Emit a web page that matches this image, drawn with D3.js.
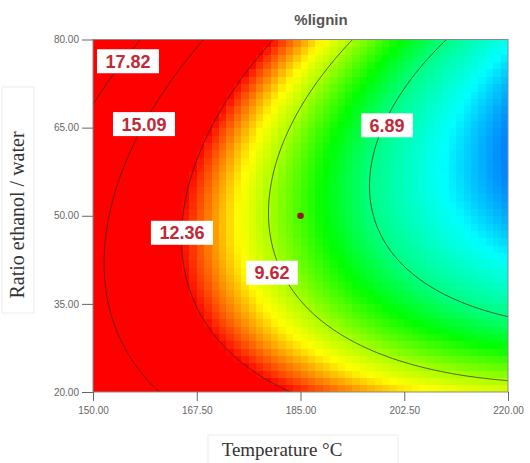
<!DOCTYPE html>
<html>
<head>
<meta charset="utf-8">
<script src="https://cdn.jsdelivr.net/npm/d3@7"></script>
<style>
  html, body { margin: 0; padding: 0; background: #fff; }
  svg { display: block; }
</style>
</head>
<body>
<svg id="chart" width="530" height="463"></svg>
<script>
// ---------------- data ----------------
const title = "%lignin";
const xTitle = "Temperature \u00B0C";
const yTitle = "Ratio ethanol / water";
const xDomain = [150, 220];
const yDomain = [20, 80];
const xTicks = [150, 167.5, 185, 202.5, 220];
const yTicks = [20, 35, 50, 65, 80];
// Response surface in coded units A=(T-185)/35, B=(R-50)/30
// terms: [1, A, B, AB, A^2, B^2, AB^2]
const modelTerms = ["1", "A", "B", "AB", "A2", "B2", "AB2"];
const modelCoefs = [8.714, -5.666, -0.408, -1.992, 1.352, 3.067, 0.333];
const contourLevels = [6.89, 9.62, 12.36, 15.09, 17.82];
// label positions (temperature, ratio)
const labelT = [155.9, 158.6, 165.0, 180.2, 199.6];
const labelR = [76.3, 65.6, 47.1, 40.3, 65.4];
const labelText = ["17.82", "15.09", "12.36", "9.62", "6.89"];
const designPointT = [185];
const designPointR = [50];
// colour ramp: response value -> hue
const colorValues = [4.0, 4.6, 5.3, 6.9, 8.1, 9.6, 10.6, 12.4];
const colorHues = [210, 195, 178, 150, 120, 80, 58, 0];

// ---------------- helpers ----------------
function response(T, R) {
  const A = (T - 185) / 35, B = (R - 50) / 30;
  const t = [1, A, B, A * B, A * A, B * B, A * B * B];
  let s = 0;
  for (let i = 0; i < t.length; i++) s += modelCoefs[i] * t[i];
  return s;
}
const hueScale = d3.scaleLinear().domain(colorValues).range(colorHues).clamp(true);
const colorOf = v => d3.hsl(hueScale(v), 1, 0.5).toString();

// ---------------- layout ----------------
const svg = d3.select("#chart");
const x = d3.scaleLinear().domain(xDomain).range([93, 508]);
const y = d3.scaleLinear().domain(yDomain).range([392, 39.5]);

svg.append("defs").append("clipPath").attr("id", "plotclip")
  .append("rect").attr("x", x(xDomain[0])).attr("y", y(yDomain[1]))
  .attr("width", x(xDomain[1]) - x(xDomain[0])).attr("height", y(yDomain[0]) - y(yDomain[1]));

// colour cells (blocky like the original)
const nx = 56, ny = 48;
const dT = (xDomain[1] - xDomain[0]) / nx, dR = (yDomain[1] - yDomain[0]) / ny;
const cells = [];
for (let j = 0; j < ny; j++) for (let i = 0; i < nx; i++) {
  const T0 = xDomain[0] + i * dT, R0 = yDomain[0] + j * dR;
  cells.push({ T0, R0, v: response(T0 + dT / 2, R0 + dR / 2) });
}
const fillG = svg.append("g").attr("clip-path", "url(#plotclip)");
fillG.selectAll("rect").data(cells).join("rect")
  .attr("x", d => x(d.T0))
  .attr("y", d => y(d.R0 + dR))
  .attr("width", d => x(d.T0 + dT) - x(d.T0) + 0.6)
  .attr("height", d => y(d.R0) - y(d.R0 + dR) + 0.6)
  .attr("fill", d => colorOf(d.v))
  .attr("shape-rendering", "crispEdges");

// contour lines (grid extended beyond domain, clipped)
const gT0 = 146, gT1 = 224, gR0 = 16, gR1 = 84;
const gnx = 260, gny = 230;
const gdT = (gT1 - gT0) / (gnx - 1), gdR = (gR1 - gR0) / (gny - 1);
const vals = new Array(gnx * gny);
for (let j = 0; j < gny; j++) for (let i = 0; i < gnx; i++)
  vals[j * gnx + i] = response(gT0 + i * gdT, gR0 + j * gdR);
const contours = d3.contours().size([gnx, gny]).thresholds(contourLevels)(vals);
const proj = d3.geoTransform({
  point: function (gx, gy) {
    this.stream.point(x(gT0 + (gx - 0.5) * gdT), y(gR0 + (gy - 0.5) * gdR));
  }
});
const cpath = d3.geoPath(proj);
svg.append("g").attr("clip-path", "url(#plotclip)")
  .selectAll("path").data(contours).join("path")
  .attr("d", cpath)
  .attr("fill", "none")
  .attr("stroke", "#3a2a10")
  .attr("stroke-opacity", 0.75)
  .attr("stroke-width", 1);

// plot border
svg.append("rect")
  .attr("x", x(xDomain[0])).attr("y", y(yDomain[1]))
  .attr("width", x(xDomain[1]) - x(xDomain[0])).attr("height", y(yDomain[0]) - y(yDomain[1]))
  .attr("fill", "none").attr("stroke", "#8a8a8a").attr("stroke-width", 1);

// design point
svg.append("g").selectAll("circle").data(designPointT).join("circle")
  .attr("cx", (d) => x(d)).attr("cy", (d, i) => y(designPointR[i]))
  .attr("r", 3.3).attr("fill", "#8e1d12");

// contour labels
const lab = svg.append("g").selectAll("g").data(labelText).join("g")
  .attr("transform", (d, i) => `translate(${x(labelT[i])},${y(labelR[i])})`);
lab.append("rect")
  .attr("x", d => -(d.length * 5.2 + 2) - 3)
  .attr("y", -12).attr("height", 24)
  .attr("width", d => 2 * (d.length * 5.2 + 2) + 6)
  .attr("fill", "#fff");
lab.append("text")
  .attr("text-anchor", "middle").attr("dy", "0.36em")
  .attr("font-family", "Arial, 'Liberation Sans', sans-serif")
  .attr("font-size", 18).attr("font-weight", "bold")
  .attr("fill", "#c02a38")
  .text(d => d);

// axes
const axFont = "Arial, 'Liberation Sans', sans-serif";
const yAxis = svg.append("g").attr("transform", `translate(${x(xDomain[0])},0)`)
  .call(d3.axisLeft(y).tickValues(yTicks).tickFormat(d3.format(".2f")).tickSize(11).tickPadding(3));
const xAxis = svg.append("g").attr("transform", `translate(0,${y(yDomain[0])})`)
  .call(d3.axisBottom(x).tickValues(xTicks).tickFormat(d3.format(".2f")).tickSize(9).tickPadding(6));
[xAxis, yAxis].forEach(g => {
  g.select(".domain").remove();
  g.selectAll(".tick line").attr("stroke", "#666");
  g.selectAll(".tick text").attr("fill", "#666").attr("font-family", axFont).attr("font-size", 10);
});

// title
svg.append("text").attr("x", 321).attr("y", 25).attr("text-anchor", "middle")
  .attr("font-family", axFont).attr("font-size", 15).attr("font-weight", "bold")
  .attr("fill", "#555").text(title);

// axis titles with faint boxes
svg.append("rect").attr("x", 208).attr("y", 435).attr("width", 190).attr("height", 40)
  .attr("fill", "none").attr("stroke", "#ececec");
svg.append("text").attr("x", 282).attr("y", 456).attr("text-anchor", "middle")
  .attr("font-family", "'Times New Roman', 'Liberation Serif', serif").attr("font-size", 19)
  .attr("fill", "#333").text(xTitle);

svg.append("rect").attr("x", 2).attr("y", 87).attr("width", 32).attr("height", 226)
  .attr("fill", "none").attr("stroke", "#ececec");
svg.append("text").attr("transform", "translate(24,215) rotate(-90)").attr("text-anchor", "middle")
  .attr("font-family", "'Times New Roman', 'Liberation Serif', serif").attr("font-size", 20)
  .attr("fill", "#333").text(yTitle);
</script>
</body>
</html>
